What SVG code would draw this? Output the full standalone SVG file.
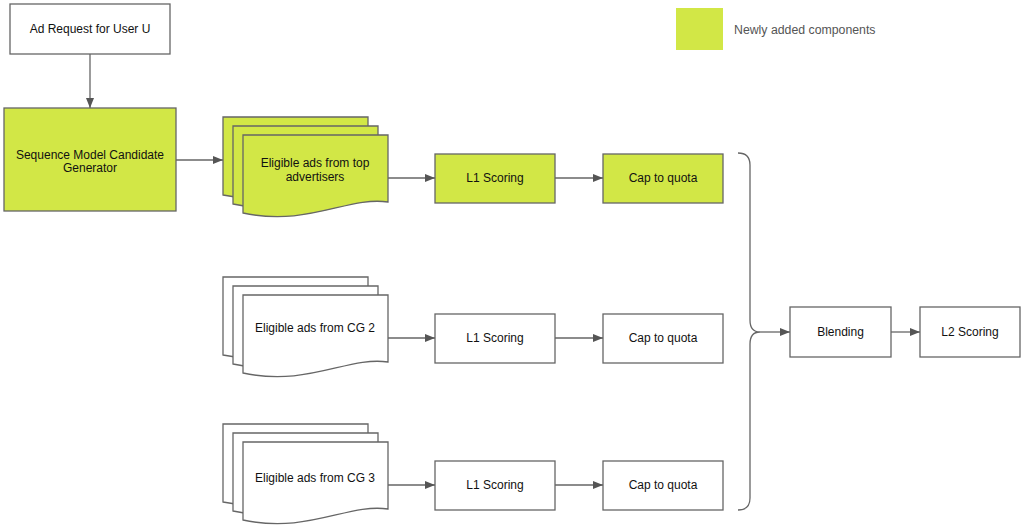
<svg xmlns="http://www.w3.org/2000/svg" width="1024" height="531" viewBox="0 0 1024 531">
<style>
.box{stroke:#666;stroke-width:1.3;fill:#fff}
.new{fill:#d2e746}
.t{font-family:"Liberation Sans",Arial,sans-serif;font-size:12px;fill:#111;text-anchor:middle}
.c{fill:none;stroke:#666;stroke-width:1.3}
</style>
<defs>
<marker id="a" markerWidth="10" markerHeight="8" refX="10" refY="4" orient="auto" markerUnits="userSpaceOnUse">
<path d="M0,0 L10,4 L0,8 Z" fill="#555"/>
</marker>
<path id="doc" d="M0,0 H145 V67 C105,61 65,92 0,78 Z"/>
</defs>
<rect width="1024" height="531" fill="#fff"/>
<g id="legend">
<rect x="676" y="8" width="47" height="42" fill="#d2e746"/>
<text x="734" y="34" style="font-family:'Liberation Sans',Arial,sans-serif;font-size:12.3px;fill:#555">Newly added components</text>
</g>
<g id="adrequest">
<rect class="box" x="10" y="4" width="160" height="50"/>
<text class="t" x="90" y="33">Ad Request for User U</text>
</g>
<g id="smcg">
<rect class="box new" x="4" y="108" width="172" height="103"/>
<text class="t" x="90" y="159">Sequence Model Candidate</text>
<text class="t" x="90" y="172">Generator</text>
</g>
<g id="docs1">
<use href="#doc" class="box new" x="223" y="117"/>
<use href="#doc" class="box new" x="233" y="126"/>
<use href="#doc" class="box new" x="243" y="135"/>
<text class="t" x="315" y="167">Eligible ads from top</text>
<text class="t" x="315" y="181">advertisers</text>
</g>
<g id="docs2">
<use href="#doc" class="box" x="223" y="277"/>
<use href="#doc" class="box" x="233" y="286"/>
<use href="#doc" class="box" x="243" y="295"/>
<text class="t" x="315" y="332">Eligible ads from CG 2</text>
</g>
<g id="docs3">
<use href="#doc" class="box" x="223" y="424"/>
<use href="#doc" class="box" x="233" y="433"/>
<use href="#doc" class="box" x="243" y="442"/>
<text class="t" x="315" y="482">Eligible ads from CG 3</text>
</g>
<g id="l1a"><rect class="box new" x="435" y="154" width="120" height="49"/><text class="t" x="495" y="182">L1 Scoring</text></g>
<g id="capa"><rect class="box new" x="603" y="154" width="120" height="49"/><text class="t" x="663" y="182">Cap to quota</text></g>
<g id="l1b"><rect class="box" x="435" y="314" width="120" height="49"/><text class="t" x="495" y="342">L1 Scoring</text></g>
<g id="capb"><rect class="box" x="603" y="314" width="120" height="49"/><text class="t" x="663" y="342">Cap to quota</text></g>
<g id="l1c"><rect class="box" x="435" y="461" width="120" height="49"/><text class="t" x="495" y="489">L1 Scoring</text></g>
<g id="capc"><rect class="box" x="603" y="461" width="120" height="49"/><text class="t" x="663" y="489">Cap to quota</text></g>
<g id="blending"><rect class="box" x="790" y="307" width="101" height="50"/><text class="t" x="840.500" y="336">Blending</text></g>
<g id="l2"><rect class="box" x="920" y="307" width="100" height="50"/><text class="t" x="970" y="336">L2 Scoring</text></g>
<g id="connectors">
<path class="c" d="M90,54 V108" marker-end="url(#a)"/>
<path class="c" d="M176,160 H223" marker-end="url(#a)"/>
<path class="c" d="M388,178 H435" marker-end="url(#a)"/>
<path class="c" d="M555,178 H603" marker-end="url(#a)"/>
<path class="c" d="M388,338 H435" marker-end="url(#a)"/>
<path class="c" d="M555,338 H603" marker-end="url(#a)"/>
<path class="c" d="M388,485 H435" marker-end="url(#a)"/>
<path class="c" d="M555,485 H603" marker-end="url(#a)"/>
<path class="c" d="M738,153 Q750,153 750,165 V320 Q750,332 760,332 Q750,332 750,344 V498 Q750,510 738,510"/>
<path class="c" d="M760,332 H790" marker-end="url(#a)"/>
<path class="c" d="M891,332 H920" marker-end="url(#a)"/>
</g>
</svg>
